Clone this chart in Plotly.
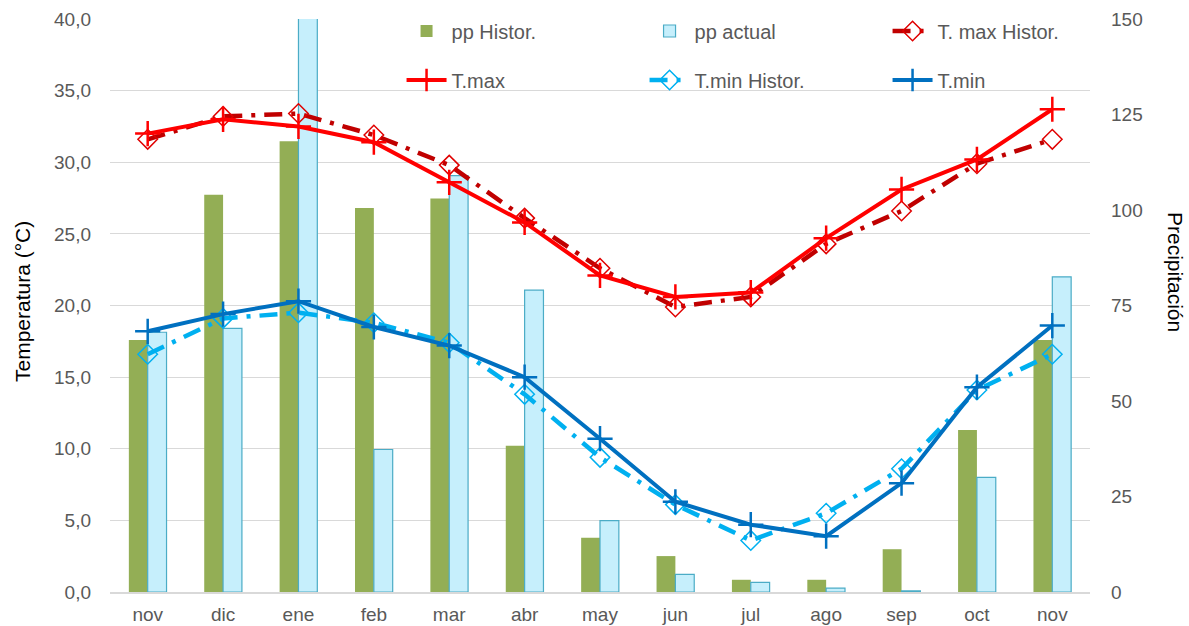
import plotly.graph_objects as go

months = ["nov", "dic", "ene", "feb", "mar", "abr", "may", "jun", "jul", "ago", "sep", "oct", "nov"]
pp_hist = [66, 104, 118, 100.5, 103, 38.3, 14.2, 9.4, 3.2, 3.2, 11.2, 42.4, 66]
pp_actual = [68, 69, 165, 37.3, 109, 79, 18.7, 4.6, 2.5, 1.0, 0.3, 30, 82.5]
tmax = [32.0, 33.0, 32.5, 31.4, 28.6, 25.8, 22.1, 20.6, 20.9, 24.7, 28.1, 30.2, 33.7]
tmax_hist = [31.6, 33.2, 33.4, 31.9, 29.8, 26.1, 22.6, 19.9, 20.6, 24.3, 26.6, 29.9, 31.6]
tmin = [18.2, 19.4, 20.3, 18.5, 17.2, 15.0, 10.7, 6.3, 4.7, 3.9, 7.6, 14.3, 18.6]
tmin_hist = [16.6, 19.1, 19.5, 18.8, 17.4, 13.8, 9.4, 6.1, 3.6, 5.5, 8.6, 14.1, 16.6]

x = list(range(len(months)))
FONT = "Liberation Sans, Arial, sans-serif"
GRAY = "#595959"

fig = go.Figure()
fig.add_trace(go.Bar(x=x, y=pp_hist, name="pp Histor.", yaxis="y",
                     marker=dict(color="#93AE55", line=dict(width=0)), legend="legend"))
fig.add_trace(go.Bar(x=x, y=pp_actual, name="pp actual", yaxis="y",
                     marker=dict(color="#C6EFFC", line=dict(color="#4BACC6", width=1.2)), legend="legend"))
fig.add_trace(go.Scatter(x=x, y=tmax_hist, name="T. max Histor.", yaxis="y2", mode="lines+markers",
                         line=dict(color="#C00000", width=4.5, dash="18px,9px,4px,9px"),
                         marker=dict(symbol="diamond-open", size=15, color="#E00000", line=dict(width=1.5)),
                         legend="legend"))
fig.add_trace(go.Scatter(x=x, y=tmax, name="T.max", yaxis="y2", mode="lines+markers",
                         line=dict(color="#FF0000", width=4),
                         marker=dict(symbol="cross-thin", size=18, color="#FF0000", line=dict(width=2.5, color="#FF0000")),
                         legend="legend2"))
fig.add_trace(go.Scatter(x=x, y=tmin_hist, name="T.min Histor.", yaxis="y2", mode="lines+markers",
                         line=dict(color="#00B0F0", width=4.5, dash="18px,9px,4px,9px"),
                         marker=dict(symbol="diamond-open", size=15, color="#00B0F0", line=dict(width=1.5)),
                         legend="legend2"))
fig.add_trace(go.Scatter(x=x, y=tmin, name="T.min", yaxis="y2", mode="lines+markers",
                         line=dict(color="#0070C0", width=4),
                         marker=dict(symbol="cross-thin", size=18, color="#0070C0", line=dict(width=2.5, color="#0070C0")),
                         legend="legend2"))

legend_common = dict(orientation="h", xanchor="left", yanchor="middle", bgcolor="rgba(0,0,0,0)",
                     font=dict(family=FONT, size=20, color=GRAY), entrywidth=188, entrywidthmode="pixels",
                     itemwidth=40, traceorder="normal")

fig.update_layout(
    width=1189, height=626,
    margin=dict(l=110, r=99, t=19, b=34, autoexpand=False),
    paper_bgcolor="white", plot_bgcolor="white",
    separators=",.",
    font=dict(family=FONT, size=19, color=GRAY),
    barmode="group", bargap=0.5, bargroupgap=0,
    showlegend=True,
    legend=dict(x=0.2975, y=(592 - 31) / 573, **legend_common),
    legend2=dict(x=0.2975, y=(592 - 80) / 573, **legend_common),
    xaxis=dict(tickmode="array", tickvals=x, ticktext=months, range=[-0.5, len(months) - 0.5],
               showgrid=False, showline=True, linecolor="#D9D9D9", linewidth=1.5, zeroline=False,
               tickfont=dict(family=FONT, size=19, color=GRAY), ticks="", automargin=False,
               ticklabelstandoff=4),
    yaxis=dict(side="right", range=[0, 150], dtick=25, showgrid=False, zeroline=False, automargin=False,
               tickfont=dict(family=FONT, size=19, color=GRAY), ticklabelstandoff=20),
    yaxis2=dict(side="left", overlaying="y", range=[0, 40], dtick=5, tickformat=".1f", automargin=False,
                showgrid=True, gridcolor="#D9D9D9", gridwidth=1.2, zeroline=False,
                tickfont=dict(family=FONT, size=19, color=GRAY), ticklabelstandoff=18),
    annotations=[
        dict(text="Temperatura (°C)", xref="paper", yref="paper", x=(23 - 110) / 980, y=(592 - 302) / 573,
             textangle=-90, showarrow=False, font=dict(family=FONT, size=21, color="#000000"),
             xanchor="center", yanchor="middle"),
        dict(text="Precipitación", xref="paper", yref="paper", x=(1176 - 110) / 980, y=(592 - 272) / 573,
             textangle=90, showarrow=False, font=dict(family=FONT, size=21, color="#000000"),
             xanchor="center", yanchor="middle"),
    ],
)

fig.write_html("out.html", config={"displayModeBar": False},
               post_script="document.body.style.margin='0';")
